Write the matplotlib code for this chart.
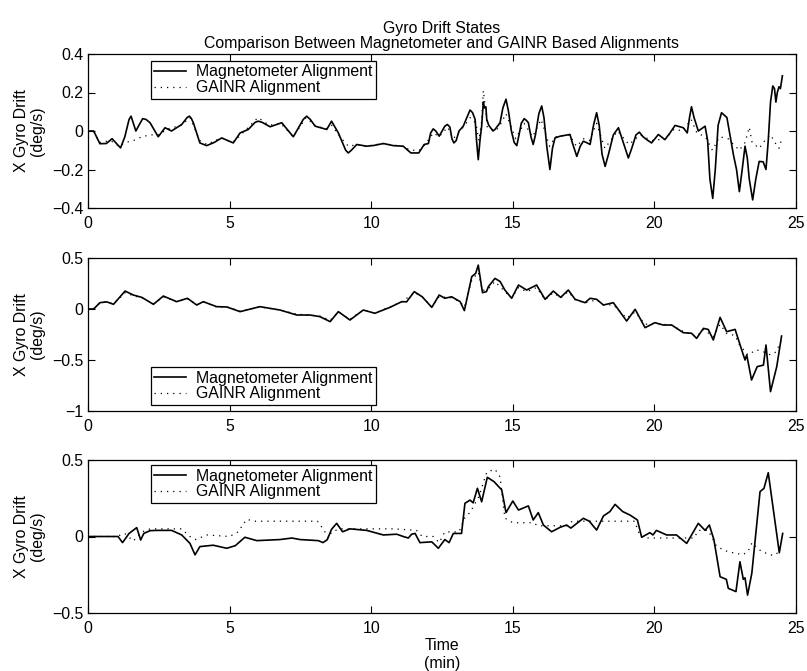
import matplotlib
matplotlib.use("Agg")
import matplotlib.pyplot as plt

plt.rcParams['font.family'] = ['Liberation Sans', 'DejaVu Sans']

# ---------------- data ----------------
title = "Gyro Drift States\nComparison Between Magnetometer and GAINR Based Alignments"
ylabel = "X Gyro Drift\n(deg/s)"
xlabel = "Time\n(min)"
series_names = ["Magnetometer Alignment", "GAINR Alignment"]
x_ticks = [0, 5, 10, 15, 20, 25]

# Panel 1
p1_mag_t = [0, 0.2, 0.42, 0.65, 0.85, 1.15, 1.3, 1.45, 1.52, 1.6, 1.69, 1.8, 1.93, 2.05, 2.19, 2.48, 2.72, 2.95,
            3.31, 3.5, 3.58, 3.65, 3.72, 3.95, 4.19, 4.45, 4.72, 5.13, 5.37, 5.66, 5.9, 6.01, 6.15, 6.43, 6.84,
            7.25, 7.6, 7.72, 7.85, 8.02, 8.43, 8.6, 8.84, 9.1, 9.19, 9.3, 9.49, 9.84, 10.1, 10.43, 10.78, 11.13,
            11.4, 11.68, 11.87, 12.02, 12.1, 12.19, 12.28, 12.4, 12.6, 12.69, 12.78, 12.85, 12.92, 13.0, 13.1,
            13.25, 13.35, 13.49, 13.58, 13.67, 13.72, 13.78, 13.84, 13.9, 13.96, 14.0, 14.05, 14.08, 14.15, 14.3,
            14.37, 14.55, 14.65, 14.76, 14.85, 14.95, 15.05, 15.14, 15.22, 15.3, 15.4, 15.48, 15.55, 15.64, 15.72,
            15.8, 15.92, 16.02, 16.1, 16.2, 16.31, 16.4, 16.49, 16.67, 17.02, 17.1, 17.26, 17.38, 17.49, 17.6,
            17.73, 17.85, 17.96, 18.05, 18.15, 18.26, 18.38, 18.55, 18.73, 18.9, 19.08, 19.2, 19.35, 19.47, 19.6,
            19.73, 19.9, 20.14, 20.37, 20.55, 20.73, 21.02, 21.16, 21.24, 21.31, 21.4, 21.55, 21.79, 21.88, 21.96,
            22.06, 22.15, 22.25, 22.37, 22.56, 22.68, 22.79, 22.9, 23.0, 23.1, 23.2, 23.28, 23.35, 23.47, 23.58,
            23.7, 23.84, 23.94, 24.02, 24.1, 24.18, 24.24, 24.29, 24.34, 24.4, 24.45, 24.52]
p1_mag_v = [0, 0, -0.066, -0.065, -0.04, -0.088, -0.03, 0.06, 0.077, 0.04, 0.0, 0.03, 0.064, 0.06, 0.043, -0.03, 0.017, 0.0,
            0.034, 0.07, 0.077, 0.065, 0.043, -0.062, -0.076, -0.06, -0.036, -0.062, -0.01, 0.008, 0.045, 0.051, 0.045, 0.022, 0.043,
            -0.03, 0.06, 0.077, 0.06, 0.025, 0.008, 0.051, -0.01, -0.1, -0.114, -0.1, -0.07, -0.079, -0.075, -0.065, -0.076, -0.079,
            -0.114, -0.114, -0.07, -0.065, -0.01, 0.011, 0.0, -0.027, 0.025, 0.034, 0.02, -0.04, -0.062, -0.05, 0.0,
            0.025, 0.06, 0.109, 0.095, 0.06, -0.05, -0.149, -0.05, 0.025, 0.151, 0.12, 0.126, 0.06, 0.03, 0.0,
            0.008, 0.043, 0.12, 0.165, 0.1, 0.0, -0.06, -0.076, -0.02, 0.04, 0.064, 0.055, 0.043, -0.03, -0.07,
            -0.02, 0.09, 0.13, 0.07, -0.08, -0.2, -0.09, -0.036, -0.027, -0.018, -0.06, -0.132, -0.08, -0.053, -0.06,
            -0.07, 0.03, 0.095, 0.03, -0.12, -0.184, -0.12, -0.02, 0.017, -0.06, -0.14, -0.09, -0.02, -0.006, -0.03,
            -0.045, -0.062, -0.018, -0.045, -0.01, 0.029, 0.017, -0.01, 0.07, 0.126, 0.07, 0.0, 0.025, -0.05, -0.25,
            -0.35, -0.2, 0.03, 0.095, 0.07, -0.03, -0.123, -0.2, -0.315, -0.2, -0.079, -0.14, -0.25, -0.358, -0.25,
            -0.158, -0.16, -0.2, -0.05, 0.15, 0.234, 0.22, 0.15, 0.2, 0.23, 0.22, 0.287]

p1_gai_t = [0, 0.2, 0.4, 0.8, 1.1, 1.3, 1.6, 1.9, 2.2, 2.5, 2.8, 3.3, 3.6, 3.95, 4.2, 4.7, 5.1, 5.4, 6.0, 6.4,
            6.8, 7.25, 7.7, 8.0, 8.4, 8.6, 8.9, 9.2, 9.5, 9.8, 10.4, 11.1, 11.4, 11.7, 11.9, 12.2, 12.4, 12.7,
            12.9, 13.25, 13.5, 13.7, 13.8, 13.9, 13.96, 14.05, 14.1, 14.4, 14.55, 14.76, 15.1, 15.4, 15.7, 16.0,
            16.3, 16.5, 17.0, 17.25, 17.5, 17.7, 17.96, 18.25, 18.7, 19.1, 19.5, 19.9, 20.4, 20.7, 21.0, 21.3,
            21.5, 21.8, 22.05, 22.3, 22.6, 22.8, 23.0, 23.2, 23.35, 23.45, 23.7, 23.9, 24.1, 24.3, 24.4, 24.5]
p1_gai_v = [0, 0, -0.06, -0.05, -0.08, -0.06, -0.05, -0.03, -0.02, -0.02, 0.01, 0.03, 0.07, -0.05, -0.07, -0.035, -0.06, -0.02, 0.07, 0.03,
            0.04, -0.03, 0.07, 0.03, 0.01, 0.03, -0.03, -0.08, -0.07, -0.08, -0.065, -0.08, -0.1, -0.1, -0.07, -0.01, -0.03, 0.02,
            -0.04, 0.02, 0.07, 0.04, -0.05, 0.05, 0.21, 0.1, 0.02, 0.0, 0.03, 0.09, -0.04, 0.04, -0.03, 0.06,
            -0.08, -0.03, -0.02, -0.08, -0.04, -0.05, 0.04, -0.09, 0.0, -0.07, -0.02, -0.05, -0.04, 0.01, 0.0, 0.06,
            -0.01, -0.03, -0.1, -0.03, -0.04, -0.07, -0.1, -0.06, 0.02, -0.06, -0.09, -0.05, -0.02, -0.07, -0.09, -0.04]

# Panel 2
p2_mag_t = [0, 0.2, 0.42, 0.66, 0.9, 1.31, 1.6, 1.9, 2.31, 2.66, 3.13, 3.51, 3.84, 4.07, 4.54, 4.9, 5.37, 6.07,
            6.78, 7.37, 7.84, 8.19, 8.55, 8.84, 9.25, 9.72, 10.13, 10.66, 11.08, 11.25, 11.52, 11.8, 12.14, 12.4,
            12.6, 12.84, 13.14, 13.29, 13.55, 13.69, 13.78, 13.93, 14.07, 14.14, 14.37, 14.55, 14.72, 14.96, 15.2,
            15.49, 15.84, 16.14, 16.43, 16.69, 16.96, 17.2, 17.55, 17.73, 17.96, 18.2, 18.55, 19.02, 19.32, 19.67,
            20.02, 20.31, 20.61, 21.02, 21.31, 21.49, 21.73, 21.9, 22.08, 22.32, 22.55, 22.85, 23.14, 23.2, 23.26,
            23.43, 23.63, 23.85, 23.94, 24.1, 24.32, 24.49]
p2_mag_v = [0, 0, 0.062, 0.07, 0.046, 0.176, 0.137, 0.114, 0.046, 0.127, 0.072, 0.105, 0.039, 0.072, 0.023, 0.02, -0.026, 0.023,
            -0.01, -0.059, -0.059, -0.075, -0.124, -0.026, -0.108, -0.01, -0.042, 0.016, 0.072, 0.07, 0.17, 0.12, 0.016, 0.137,
            0.105, 0.12, 0.072, -0.016, 0.317, 0.35, 0.43, 0.16, 0.17, 0.22, 0.3, 0.27, 0.186, 0.105, 0.235,
            0.186, 0.235, 0.095, 0.176, 0.114, 0.186, 0.095, 0.062, 0.105, 0.095, 0.039, 0.062, -0.118, -0.003, -0.183,
            -0.134, -0.157, -0.157, -0.232, -0.238, -0.288, -0.19, -0.2, -0.304, -0.082, -0.222, -0.2, -0.45, -0.5, -0.45,
            -0.696, -0.565, -0.55, -0.353, -0.81, -0.565, -0.265]

p2_gai_t = [0, 0.2, 0.42, 0.66, 0.9, 1.31, 1.6, 1.9, 2.31, 2.66, 3.13, 3.51, 3.84, 4.07, 4.54, 4.9, 5.37, 6.07,
            6.78, 7.37, 7.84, 8.19, 8.55, 8.84, 9.25, 9.72, 10.13, 10.66, 11.08, 11.52, 11.8, 12.14, 12.4, 12.84,
            13.14, 13.29, 13.55, 13.78, 13.93, 14.14, 14.37, 14.72, 14.96, 15.2, 15.49, 15.84, 16.14, 16.43, 16.69,
            16.96, 17.2, 17.55, 17.96, 18.2, 18.55, 19.02, 19.32, 19.67, 20.02, 20.61, 21.02, 21.49, 21.73, 22.08,
            22.32, 22.55, 22.85, 23.0, 23.3, 23.6, 23.85, 24.1, 24.3, 24.49]
p2_gai_v = [0, 0, 0.06, 0.07, 0.05, 0.16, 0.13, 0.11, 0.05, 0.12, 0.07, 0.1, 0.04, 0.07, 0.02, 0.02, -0.02, 0.02,
            -0.01, -0.05, -0.06, -0.07, -0.11, -0.03, -0.1, -0.01, -0.04, 0.02, 0.07, 0.16, 0.12, 0.02, 0.12, 0.11,
            0.07, 0.02, 0.28, 0.36, 0.18, 0.2, 0.27, 0.17, 0.11, 0.21, 0.17, 0.21, 0.09, 0.16, 0.11,
            0.17, 0.09, 0.06, 0.09, 0.04, 0.04, -0.09, -0.03, -0.15, -0.14, -0.16, -0.22, -0.27, -0.2, -0.27,
            -0.15, -0.24, -0.26, -0.35, -0.45, -0.4, -0.42, -0.45, -0.42, -0.3]

# Panel 3
p3_mag_t = [0, 1.06, 1.22, 1.45, 1.72, 1.86, 1.97, 2.19, 2.43, 2.95, 3.31, 3.6, 3.78, 3.95, 4.42, 4.9, 5.2, 5.54,
            5.96, 6.78, 7.2, 7.49, 8.13, 8.3, 8.45, 8.6, 8.78, 8.99, 9.25, 9.84, 10.43, 10.9, 11.13, 11.31, 11.43,
            11.55, 11.72, 12.14, 12.37, 12.6, 12.75, 12.9, 13.19, 13.31, 13.49, 13.6, 13.75, 13.9, 14.1, 14.34,
            14.61, 14.76, 15.0, 15.2, 15.55, 15.72, 15.9, 16.08, 16.37, 16.67, 16.9, 17.05, 17.49, 17.7, 17.96,
            18.2, 18.43, 18.61, 18.88, 19.14, 19.4, 19.55, 19.84, 19.95, 20.07, 20.43, 20.78, 21.14, 21.55, 21.79,
            21.94, 22.1, 22.32, 22.54, 22.61, 22.88, 23.02, 23.14, 23.2, 23.29, 23.44, 23.73, 23.87, 24.02, 24.41, 24.53]
p3_mag_v = [0, 0, -0.04, 0.02, 0.058, -0.023, 0.02, 0.038, 0.04, 0.04, 0.01, -0.045, -0.12, -0.066, -0.057, -0.077, -0.06, -0.005,
            -0.027, -0.02, -0.01, -0.02, -0.027, -0.04, -0.02, 0.047, 0.086, 0.031, 0.05, 0.04, 0.01, 0.015, 0.0, -0.01, 0.015,
            0.02, -0.04, -0.035, -0.077, -0.02, -0.04, 0.02, 0.02, 0.217, 0.238, 0.22, 0.315, 0.227, 0.387, 0.358,
            0.304, 0.156, 0.232, 0.173, 0.2, 0.108, 0.156, 0.075, 0.031, 0.06, 0.075, 0.055, 0.119, 0.1, 0.042,
            0.134, 0.163, 0.21, 0.163, 0.14, 0.108, -0.005, 0.025, 0.01, 0.04, 0.01, 0.01, -0.045, 0.086, 0.04,
            0.075, -0.02, -0.263, -0.28, -0.339, -0.36, -0.165, -0.28, -0.27, -0.383, -0.24, 0.293, 0.315, 0.417, -0.106, 0.02]

p3_gai_t = [0, 1.0, 1.3, 1.6, 1.9, 2.2, 3.3, 3.6, 3.8, 4.2, 5.0, 5.3, 5.6, 5.9, 8.1, 8.3, 8.5, 8.6, 8.9, 10.8,
            11.6, 11.8, 12.2, 12.4, 12.6, 13.1, 13.3, 13.5, 13.8, 14.08, 14.37, 14.55, 14.72, 15.0, 15.7, 15.9,
            16.9, 17.1, 17.8, 18.4, 19.3, 19.5, 19.8, 21.4, 21.55, 21.9, 22.2, 22.6, 22.9, 23.1, 23.3, 23.45,
            23.6, 23.8, 24.2, 24.5]
p3_gai_v = [0, 0, 0.02, -0.03, 0.03, 0.05, 0.05, 0.0, -0.02, 0.01, 0.0, 0.03, 0.112, 0.1, 0.1, 0.05, -0.01, 0.03, 0.05, 0.05,
            0.04, 0.0, 0.0, -0.04, 0.03, 0.03, 0.12, 0.16, 0.26, 0.42, 0.44, 0.39, 0.12, 0.09, 0.09, 0.07,
            0.07, 0.1, 0.1, 0.1, 0.1, 0.0, -0.01, -0.01, 0.04, 0.04, -0.066, -0.1, -0.11, -0.12, -0.1, -0.04,
            -0.07, -0.1, -0.125, -0.09]

y_ticks = [[-0.4, -0.2, 0, 0.2, 0.4], [-1, -0.5, 0, 0.5], [-0.5, 0, 0.5]]
y_ticklabels = [["\u22120.4", "\u22120.2", "0", "0.2", "0.4"], ["\u22121", "\u22120.5", "0", "0.5"], ["\u22120.5", "0", "0.5"]]
y_lims = [(-0.4, 0.4), (-1, 0.5), (-0.5, 0.5)]

panels = [(p1_mag_t, p1_mag_v, p1_gai_t, p1_gai_v),
          (p2_mag_t, p2_mag_v, p2_gai_t, p2_gai_v),
          (p3_mag_t, p3_mag_v, p3_gai_t, p3_gai_v)]

# ---------------- layout ----------------
W, H = 807, 671
fig = plt.figure(figsize=(W / 100, H / 100), dpi=100)
left = 88 / W
width = 708 / W
boxes = [(54, 208), (258, 411), (460, 613)]
legend_locs = [("upper left", (0.089, 0.955)), ("lower left", (0.089, 0.04)), ("upper left", (0.089, 0.967))]

FS = 11.4
axes = []
for i, ((mt, mv, gt, gv), (top, bot)) in enumerate(zip(panels, boxes)):
    ax = fig.add_axes([left, 1 - bot / H, width, (bot - top) / H])
    axes.append(ax)
    ax.plot(mt, mv, color='black', lw=1.2, label=series_names[0])
    ax.plot(gt, gv, color='black', lw=0.9, linestyle=(0, (1, 4)), label=series_names[1])
    ax.set_xlim(0, 25)
    ax.set_ylim(*y_lims[i])
    ax.set_xticks(x_ticks)
    ax.set_xticklabels([str(v) for v in x_ticks])
    ax.set_yticks(y_ticks[i])
    ax.set_yticklabels(y_ticklabels[i])
    ax.tick_params(direction='in', top=True, right=True, length=5, width=0.8,
                   labelsize=FS, colors='black')
    ax.tick_params(axis='x', pad=5.5)
    ax.tick_params(axis='y', pad=3.5)
    for s in ax.spines.values():
        s.set_linewidth(0.9)
    ax.set_ylabel(ylabel, fontsize=FS, labelpad=5, linespacing=1.05)
    loc, anchor = legend_locs[i]
    leg = ax.legend(loc=loc, bbox_to_anchor=anchor, fontsize=FS, frameon=True, fancybox=False,
                    edgecolor='black', framealpha=1, handlelength=2.0, handletextpad=0.6,
                    borderpad=0.22, labelspacing=0.05, borderaxespad=0)
    leg.get_frame().set_linewidth(0.9)

axes[0].set_title(title, fontsize=FS, pad=4, linespacing=1.05)
axes[2].set_xlabel(xlabel, fontsize=FS, labelpad=2, linespacing=1.25)

fig.savefig("out.png", dpi=100, facecolor='white')
